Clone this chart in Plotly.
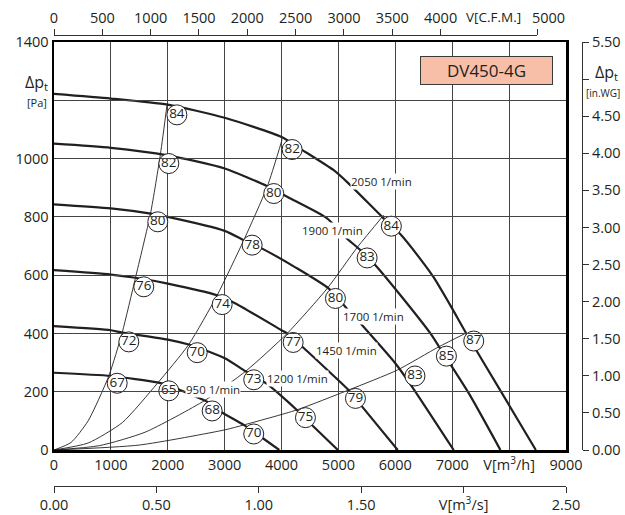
import plotly.graph_objects as go

W, H = 625, 515
ML, MR, MT, MB = 54, 43, 35, 29
FONT = "Open Sans"
INK = "#231F20"

# ---------------- data ----------------
# fan speed curves: volume flow V [m3/h] and total pressure dp_t [Pa]
V_2050 = [0, 1000, 2000, 3000, 4000, 4360, 4917, 5181, 5768, 6090, 6441, 6675, 7000, 7232, 7850, 8470]
P_2050 = [1222, 1206, 1185, 1140, 1074, 1030, 960, 914, 800, 740, 655, 592, 485, 405, 203, 0]
V_1900 = [0, 1000, 2000, 3000, 3750, 4156, 4801, 5123, 5387, 5650, 6090, 6617, 6763, 7290, 7847]
P_1900 = [1051, 1037, 1011, 966, 905, 863, 795, 730, 686, 634, 531, 400, 356, 195, 0]
V_1700 = [0, 1000, 1700, 2000, 3000, 3336, 3659, 4250, 4830, 5123, 5417, 6002, 6295, 7026]
P_1700 = [843, 829, 811, 800, 752, 720, 691, 626, 554, 491, 428, 297, 217, 0]
V_1450 = [0, 1000, 1432, 2000, 2868, 3190, 4000, 4099, 4390, 4830, 5181, 5445, 6042]
P_1450 = [617, 602, 591, 571, 531, 503, 411, 400, 350, 270, 205, 142, 0]
V_1200 = [0, 1000, 1199, 2000, 2369, 2692, 3014, 3366, 3717, 4000, 4302, 4538, 4990]
P_1200 = [425, 411, 403, 379, 362, 340, 314, 270, 230, 185, 131, 85, 0]
V_950 = [0, 1000, 1814, 2000, 2429, 2700, 2926, 3336, 3659, 3960]
P_950 = [265, 254, 232, 223, 188, 165, 132, 86, 42, 0]

speed_names = ["2050 1/min", "1900 1/min", "1700 1/min", "1450 1/min", "1200 1/min", "950 1/min"]
speed_V = [V_2050, V_1900, V_1700, V_1450, V_1200, V_950]
speed_P = [P_2050, P_1900, P_1700, P_1450, P_1200, P_950]

# labels of the speed curves (position in V, dp)
label_V = [5752, 4903, 5615, 5138, 4288, 2803]
label_P = [920, 754, 457, 343, 246, 208]

# system lines through the origin
S1_V = [0, 300, 600, 963, 1199, 1432, 1696, 1872, 1990]
S1_P = [0, 26, 100, 254, 403, 591, 811, 1017, 1189]
S2_V = [0, 600, 1200, 1814, 2369, 2868, 3336, 3747, 4010]
S2_P = [0, 24, 94, 228, 362, 531, 720, 903, 1065]
S3_V = [0, 800, 1600, 2650, 3380, 4099, 4801, 5334, 5796]
S3_P = [0, 15, 61, 170, 272, 400, 554, 696, 806]
S4_V = [0, 1500, 3000, 3336, 4260, 5181, 6032, 6763, 7232]
S4_P = [0, 17, 69, 86, 137, 206, 274, 354, 400]
system_V = [S1_V, S2_V, S3_V, S4_V]
system_P = [S1_P, S2_P, S3_P, S4_P]

# circled values along the system lines
mark_V = [2160, 2018, 1824, 1578, 1315, 1111,
          4186, 3863, 3483, 2956, 2517, 2018,
          5930, 5504, 4947, 4204, 3511, 2780,
          7378, 6898, 6345, 5299, 4420, 3511]
mark_P = [1150, 983, 783, 560, 371, 229,
          1031, 880, 703, 499, 334, 203,
          768, 659, 520, 369, 241, 134,
          374, 322, 254, 177, 111, 55]
mark_T = ["84", "82", "80", "76", "72", "67",
          "82", "80", "78", "74", "70", "65",
          "84", "83", "80", "77", "73", "68",
          "87", "85", "83", "79", "75", "70"]

# axes ticks
x_ticks = [0, 1000, 2000, 3000, 4000, 5000, 6000, 7000, 8000, 9000]
x_text = ["0", "1000", "2000", "3000", "4000", "5000", "6000", "7000", "V[m<sup>3</sup>/h]", "9000"]
y_ticks = [0, 200, 400, 600, 800, 1000, 1200, 1400]
y_text = ["0", "200", "400", "600", "800", "1000", "", "1400"]
cfm_ticks = [0, 500, 1000, 1500, 2000, 2500, 3000, 3500, 4000, 5000]
cfm_text = ["0", "500", "1000", "1500", "2000", "2500", "3000", "3500", "4000",
            "\u00a0\u00a0\u00a0\u00a0\u00a0\u00a05000"]
ms_ticks = [0, 0.5, 1.0, 1.5, 2.0, 2.5]
ms_text = ["0.00", "0.50", "1.00", "1.50", "V[m<sup>3</sup>/s]", "2.50"]
wg_ticks = [0, 0.5, 1.0, 1.5, 2.0, 2.5, 3.0, 3.5, 4.0, 4.5, 5.0, 5.5]
wg_text = ["0.00", "0.50", "1.00", "1.50", "2.00", "2.50", "3.00", "3.50", "4.00", "4.50", "", "5.50"]

title_text = "DV450-4G"

# ---------------- geometry helpers ----------------
PW, PH = W - ML - MR, H - MT - MB


def fx(px):
    return (px - ML) / PW


def fy(py):
    return (H - MB - py) / PH


xdom = [0, fx(566)]
ydom = [fy(450), fy(42)]
cfm_end = fx(ML + (566 - ML) * (5000 * 1.699 / 9000))

fig = go.Figure()

for V, P in zip(system_V, system_P):
    fig.add_trace(go.Scatter(x=V, y=P, mode="lines", line=dict(color=INK, width=0.9, shape="spline", smoothing=0.6),
                             hoverinfo="skip", showlegend=False))

for name, V, P in zip(speed_names, speed_V, speed_P):
    fig.add_trace(go.Scatter(x=V, y=P, mode="lines", name=name,
                             line=dict(color=INK, width=2.2, shape="spline", smoothing=0.6),
                             showlegend=False))

fig.add_trace(go.Scatter(x=mark_V, y=mark_P, mode="markers+text", text=mark_T,
                         textposition="middle center",
                         textfont=dict(family=FONT, size=13.5, color=INK),
                         marker=dict(size=20, color="white", line=dict(color=INK, width=1)),
                         hoverinfo="skip", showlegend=False, cliponaxis=False))

# dummy traces so the secondary axes are drawn
fig.add_trace(go.Scatter(x=[0], y=[0], xaxis="x2", yaxis="y", mode="markers",
                         marker=dict(opacity=0), hoverinfo="skip", showlegend=False))
fig.add_trace(go.Scatter(x=[0], y=[0], xaxis="x3", yaxis="y", mode="markers",
                         marker=dict(opacity=0), hoverinfo="skip", showlegend=False))
fig.add_trace(go.Scatter(x=[0], y=[0], xaxis="x", yaxis="y2", mode="markers",
                         marker=dict(opacity=0), hoverinfo="skip", showlegend=False))

tickfont = dict(family=FONT, size=14.5, color=INK)

fig.update_layout(
    template="none",
    width=W, height=H,
    margin=dict(l=ML, r=MR, t=MT, b=MB, pad=0, autoexpand=False),
    paper_bgcolor="white", plot_bgcolor="rgba(0,0,0,0)",
    font=dict(family=FONT, color=INK),
    hovermode=False,
    xaxis=dict(domain=xdom, range=[0, 9000], tickvals=x_ticks, ticktext=x_text,
               tickfont=tickfont, showgrid=True, gridcolor="#444", gridwidth=1.2,
               zeroline=False, showline=True, mirror=True, linecolor="black", linewidth=2.5,
               ticks="", anchor="y", fixedrange=True, automargin=False),
    yaxis=dict(domain=ydom, range=[0, 1400], tickvals=y_ticks, ticktext=y_text,
               tickfont=tickfont, showgrid=True, gridcolor="#444", gridwidth=1.2,
               zeroline=False, showline=True, mirror=True, linecolor="black", linewidth=2.5,
               ticks="", anchor="x", fixedrange=True, automargin=False),
    xaxis2=dict(domain=[0, cfm_end], range=[0, 5000], anchor="free", position=1,
                side="top", tickvals=cfm_ticks, ticktext=cfm_text, tickfont=tickfont,
                ticks="outside", ticklen=6, tickcolor="#333", tickwidth=1, automargin=False,
                showline=True, linecolor="#333", linewidth=1, showgrid=False, zeroline=False,
                fixedrange=True),
    xaxis3=dict(domain=xdom, range=[0, 2.5], overlaying="x", anchor="free", position=0,
                side="bottom", tickvals=ms_ticks, ticktext=ms_text, tickfont=tickfont,
                ticks="outside", ticklen=6, tickcolor="#333", tickwidth=1, automargin=False,
                showline=True, linecolor="#333", linewidth=1, showgrid=False, zeroline=False),
    yaxis2=dict(domain=ydom, range=[0, 5.5], overlaying="y", anchor="free", position=1,
                side="right", tickvals=wg_ticks, ticktext=wg_text, tickfont=tickfont,
                ticks="outside", ticklen=6, tickcolor="#333", tickwidth=1, automargin=False,
                showline=True, linecolor="#333", linewidth=1, showgrid=False, zeroline=False),
)

ann = []
for name, lv, lp in zip(speed_names, label_V, label_P):
    ann.append(dict(x=lv, y=lp, xref="x", yref="y", text=name, showarrow=False,
                    font=dict(family=FONT, size=11.5, color=INK), bgcolor="white", borderpad=0,
                    xanchor="center", yanchor="middle"))

ann.append(dict(x=fx(486), y=fy(70), xref="paper", yref="paper", text=title_text, showarrow=False,
                font=dict(family=FONT, size=17, color=INK), bgcolor="#F8BFA8",
                bordercolor="#3a3a3a", borderwidth=1, borderpad=1, width=129, height=25,
                xanchor="center", yanchor="middle"))

ann.append(dict(x=fx(36), y=fy(82), xref="paper", yref="paper", text="\u0394p<sub>t</sub>",
                showarrow=False, font=dict(family=FONT, size=16, color=INK), xanchor="center", yanchor="middle"))
ann.append(dict(x=fx(36.5), y=fy(102), xref="paper", yref="paper", text="[Pa]",
                showarrow=False, font=dict(family=FONT, size=11, color=INK), xanchor="center", yanchor="middle"))
ann.append(dict(x=fx(606), y=fy(73), xref="paper", yref="paper", text="\u0394p<sub>t</sub>",
                showarrow=False, font=dict(family=FONT, size=16, color=INK), xanchor="center", yanchor="middle"))
ann.append(dict(x=fx(603), y=fy(93), xref="paper", yref="paper", text="[in.WG]",
                showarrow=False, font=dict(family=FONT, size=10, color=INK), xanchor="center", yanchor="middle"))
ann.append(dict(x=4552, y=fy(17), xref="x2", yref="paper", text="V[C.F.M.]",
                showarrow=False, font=dict(family=FONT, size=13.5, color=INK),
                xanchor="center", yanchor="middle"))

fig.update_layout(annotations=ann)

fig.write_html("out.html",
               config={"displayModeBar": False, "staticPlot": True},
               post_script="document.body.style.margin='0px';document.body.style.overflow='hidden';")
